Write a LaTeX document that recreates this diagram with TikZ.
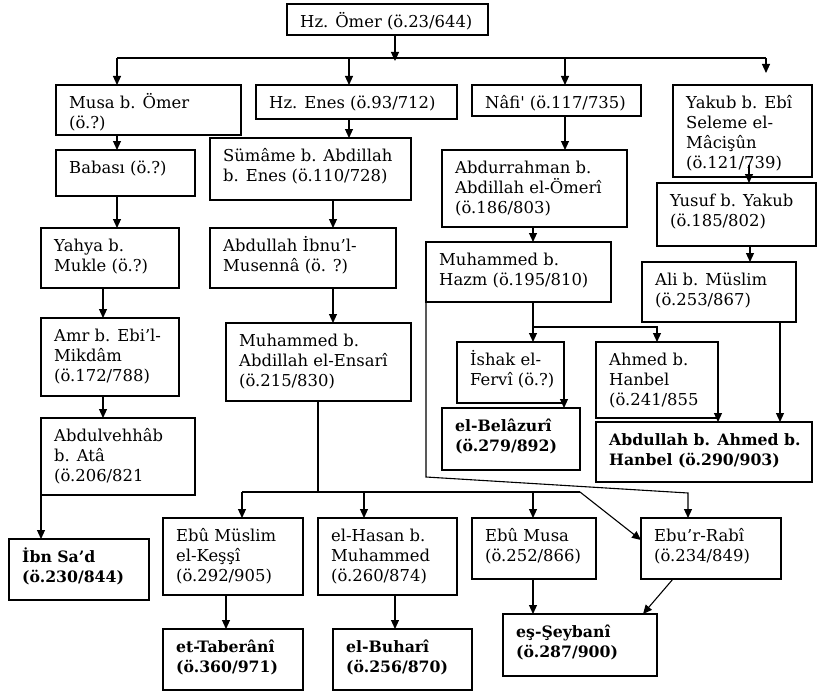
\documentclass[tikz,border=0pt]{standalone}
\usepackage{fontspec}
\setmainfont{DejaVu Serif}
\usetikzlibrary{arrows.meta}
\tikzset{
  boxst/.style={draw, line width=1.1pt, inner sep=0pt, outer sep=0pt, anchor=north west},
  txt/.style={anchor=north west, inner sep=0pt, align=left, font=\fontsize{16.4}{20}\selectfont},
  txtb/.style={txt, font=\fontsize{15.7}{20}\selectfont\bfseries},
  ln/.style={line width=1.1pt},
  arr/.style={line width=1.1pt, -{Triangle[length=9pt,width=8pt]}},
}
\newcommand\bx[7]{%
  \node[boxst, minimum width={#4-#2}, minimum height={#5-#3}] (#1) at (#2,#3) {};
  \node[#7] (#1-t) at (#2+13,#3+7) {\rule{0pt}{16pt}#6};
}
\begin{document}
\begin{tikzpicture}[x=1pt, y=-1pt]
\useasboundingbox (0,0) rectangle (817,693);
% boxes
\bx{omer}{287}{4}{488}{35}{Hz. Ömer (ö.23/644)}{txt}
\bx{musa}{56}{85}{241}{135}{Musa b. Ömer\\(ö.?)}{txt}
\bx{enes}{256}{85}{457}{119}{Hz. Enes (ö.93/712)}{txt}
\bx{nafi}{472}{85}{641}{116}{Nâfi\textquotesingle{} (ö.117/735)}{txt}
\bx{yakub}{673}{85}{812}{177}{Yakub b. Ebî\\Seleme el-\\Mâcişûn\\(ö.121/739)}{txt}
\bx{babasi}{56}{150}{195}{196}{Babası (ö.?)}{txt}
\bx{sumame}{210}{138}{411}{200}{Sümâme b. Abdillah\\b. Enes (ö.110/728)}{txt}
\bx{abdurrahman}{442}{150}{627}{227}{Abdurrahman b.\\Abdillah el-Ömerî\\(ö.186/803)}{txt}
\bx{yusuf}{657}{183}{816}{246}{Yusuf b. Yakub\\(ö.185/802)}{txt}
\bx{yahya}{41}{228}{179}{288}{Yahya b.\\Mukle (ö.?)}{txt}
\bx{abdullah}{210}{228}{396}{288}{Abdullah İbnu’l-\\Musennâ (ö. ?)}{txt}
\bx{hazm}{426}{242}{611}{302}{Muhammed b.\\Hazm (ö.195/810)}{txt}
\bx{ali}{642}{262}{796}{322}{Ali b. Müslim\\(ö.253/867)}{txt}
\bx{amr}{41}{318}{179}{396}{Amr b. Ebi’l-\\Mikdâm\\(ö.172/788)}{txt}
\bx{ensari}{226}{323}{411}{401}{Muhammed b.\\Abdillah el-Ensarî\\(ö.215/830)}{txt}
\bx{ishak}{457}{342}{564}{403}{İshak el-\\Fervî (ö.?)}{txt}
\bx{ahmed}{596}{342}{718}{418}{Ahmed b.\\Hanbel\\(ö.241/855}{txt}
\bx{belazuri}{442}{408}{580}{470}{el-Belâzurî\\(ö.279/892)}{txtb}
\bx{abdulvehhab}{41}{418}{195}{495}{Abdulvehhâb\\b. Atâ\\(ö.206/821}{txt}
\bx{abdullahA}{596}{422}{812}{482}{Abdullah b. Ahmed b.\\Hanbel (ö.290/903)}{txtb}
\bx{ebumuslim}{163}{518}{303}{595}{Ebû Müslim\\el-Keşşî\\(ö.292/905)}{txt}
\bx{hasan}{318}{518}{457}{595}{el-Hasan b.\\Muhammed\\(ö.260/874)}{txt}
\bx{ebumusa}{472}{518}{596}{579}{Ebû Musa\\(ö.252/866)}{txt}
\bx{eburabi}{641}{518}{781}{579}{Ebu’r-Rabî\\(ö.234/849)}{txt}
\bx{ibnsad}{9}{539}{149}{600}{İbn Sa’d\\(ö.230/844)}{txtb}
\bx{taberani}{163}{629}{303}{690}{et-Taberânî\\(ö.360/971)}{txtb}
\bx{buhari}{333}{629}{472}{690}{el-Buharî\\(ö.256/870)}{txtb}
\bx{seybani}{503}{614}{657}{676}{eş-Şeybanî\\(ö.287/900)}{txtb}
% coordinates
\coordinate (busL) at (117,58);
\coordinate (busR) at (766,58);
\coordinate (yakubEnd) at (766,73);
\coordinate (ensBus) at (318,492);
\coordinate (ensL) at (242,492);
\coordinate (ensR) at (580,492);
\coordinate (hazmBend) at (426,477);
\coordinate (hazmTop) at (688,493);
\coordinate (hzBus) at (533,327);
% connectors
\draw[arr] (395,0 |- omer.south) -- (395,61);
\draw[ln] (busL) -- (busR);
\draw[arr] (busL) -- (busL |- musa.north);
\draw[arr] (349,58) -- (349,0 |- enes.north);
\draw[arr] (565,58) -- (565,0 |- nafi.north);
\draw[arr] (busR) -- (yakubEnd);
\draw[arr] (117,0 |- musa.south) -- (117,0 |- babasi.north);
\draw[arr] (117,0 |- babasi.south) -- (117,0 |- yahya.north);
\draw[arr] (103,0 |- yahya.south) -- (103,0 |- amr.north);
\draw[arr] (103,0 |- amr.south) -- (103,0 |- abdulvehhab.north);
\draw[arr] (abdulvehhab.south west) -- (abdulvehhab.south west |- ibnsad.north);
\draw[arr] (349,0 |- enes.south) -- (349,0 |- sumame.north);
\draw[arr] (333,0 |- sumame.south) -- (333,0 |- abdullah.north);
\draw[arr] (333,0 |- abdullah.south) -- (333,0 |- ensari.north);
\draw[ln] (318,0 |- ensari.south) -- (ensBus);
\draw[ln] (ensL) -- (ensR);
\draw[arr] (ensR) -- (eburabi.west |- 0,540);
\draw[arr] (ensL) -- (ensL |- ebumuslim.north);
\draw[arr] (364,492) -- (364,0 |- hasan.north);
\draw[arr] (533,492) -- (533,0 |- ebumusa.north);
\draw[arr] (226,0 |- ebumuslim.south) -- (226,0 |- taberani.north);
\draw[arr] (395,0 |- hasan.south) -- (395,0 |- buhari.north);
\draw[arr] (533,0 |- ebumusa.south) -- (533,0 |- seybani.north);
\draw[arr] (673,0 |- eburabi.south) -- (643,0 |- seybani.north);
\draw[arr] (565,0 |- nafi.south) -- (565,0 |- abdurrahman.north);
\draw[arr] (533,0 |- abdurrahman.south) -- (533,0 |- hazm.north);
\draw[arr] (hazm.south west) -- (hazmBend) -- (hazmTop) -- (hazmTop |- eburabi.north);
\draw[arr] (533,0 |- hazm.south) -- (533,0 |- ishak.north);
\draw[arr] (hzBus) -- (657,327) -- (657,0 |- ahmed.north);
\draw[arr] (ishak.east |- 0,380) -- (ishak.east |- belazuri.north);
\draw[arr] (ahmed.east |- 0,393) -- (ahmed.east |- abdullahA.north);
\draw[arr] (780,0 |- ali.south) -- (780,0 |- abdullahA.north);
\draw[arr] (749,165) -- (749,0 |- yusuf.north);
\draw[arr] (750,0 |- yusuf.south) -- (750,0 |- ali.north);
\end{tikzpicture}
\end{document}
